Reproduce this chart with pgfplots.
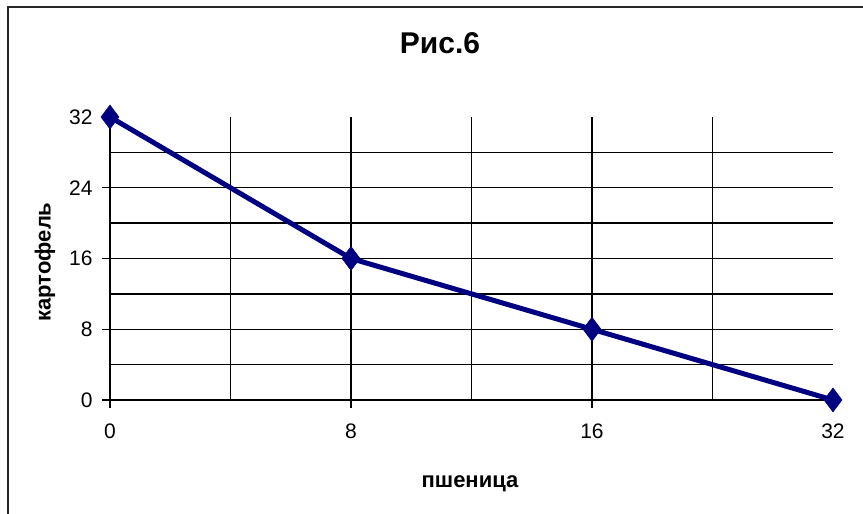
\documentclass[border=0pt]{standalone}
\usepackage{pgfplots}
\pgfplotsset{compat=1.18}
\usepackage{fontspec}
\setmainfont{Liberation Sans}
\definecolor{navyline}{RGB}{0,0,128}
\begin{document}
\begin{tikzpicture}
\useasboundingbox (-110pt,-114pt) rectangle (753pt,400pt);
\begin{axis}[
  at={(0pt,0pt)}, anchor=south west,
  scale only axis, width=723pt, height=283pt,
  xmin=0, xmax=3, ymin=0, ymax=32,
  axis x line*=bottom, axis y line*=left,
  axis line style={line width=1.4pt, black, -},
  xtick={0,1,2,3}, xticklabels={0,8,16,32},
  ytick={0,8,16,24,32},
  /pgf/number format/assume math mode=true,
  tick align=outside, major tick length=8pt,
  tick style={line width=1.4pt, black},
  extra x ticks={0.5,1,1.5,2,2.5}, extra x tick labels={},
  extra y ticks={4,8,12,16,20,24,28}, extra y tick labels={},
  extra tick style={grid=major, tick style={draw=none}},
  major grid style={line width=1.4pt, black},
  tick label style={font=\fontsize{21}{21}\selectfont},
  xticklabel style={yshift=-12pt},
  yticklabel style={xshift=-6pt},
  clip=false,
]
\addplot[color=navyline, line width=5pt, mark=diamond*, mark size=12pt,
  mark options={solid, line width=0.5pt, fill=navyline}]
  coordinates {(0,32) (1,16) (2,8) (3,0)};
\end{axis}
\draw[line width=2pt, black!85] (-102pt,-114pt) -- (-102pt,393pt) -- (753pt,393pt);
\node[font=\bfseries\fontsize{30}{30}\selectfont] at (330pt,357pt) {Рис.6};
\node[font=\bfseries\fontsize{22}{22}\selectfont] at (360pt,-84pt) {пшеница};
\node[font=\bfseries\fontsize{22}{22}\selectfont, rotate=90] at (-65pt,138pt) {картофель};
\end{tikzpicture}
\end{document}
